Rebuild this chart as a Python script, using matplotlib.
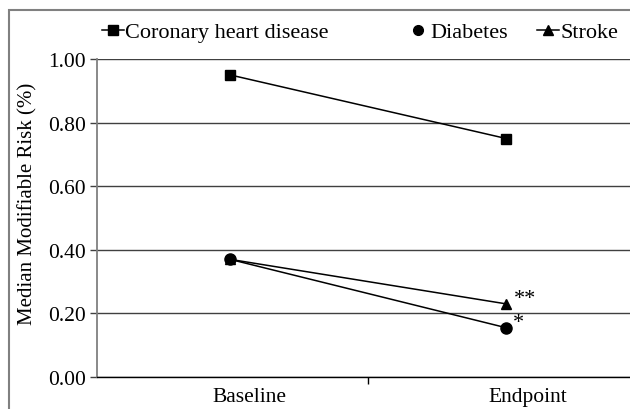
import matplotlib
matplotlib.use("Agg")
import matplotlib.pyplot as plt
from matplotlib.lines import Line2D
from matplotlib.patches import Rectangle

plt.rcParams['font.family'] = ['Liberation Serif', 'DejaVu Serif']
plt.rcParams['font.size'] = 15

# Datos
categorias = ['Baseline', 'Endpoint']
chd = [0.95, 0.75]
diabetes = [0.37, 0.155]
stroke = [0.37, 0.23]

W, H = 630, 410
fig = plt.figure(figsize=(W / 100, H / 100), dpi=100)

# marco de la figura
fig.patches.append(Rectangle((9 / W, -0.1), 1.2, 1.1 - 11 / H, transform=fig.transFigure,
                             fill=False, ec='#808080', lw=1.5))

ax = fig.add_axes([97 / W, (H - 378) / H, 1 - 97 / W, 318 / H])
x = [0, 1]

ax.plot(x, chd, color='black', lw=1.1, marker='s', ms=7.5, zorder=3)
ax.plot(x, diabetes, color='black', lw=1.1, marker='o', ms=8, zorder=3)
ax.plot(x, stroke, color='black', lw=1.1, marker='^', ms=7, zorder=3)

ax.annotate('**', (x[1], stroke[1]), xytext=(6, 4), textcoords='offset points',
            ha='left', va='center', fontsize=16)
ax.annotate('*', (x[1], diabetes[1]), xytext=(5, 4), textcoords='offset points',
            ha='left', va='center', fontsize=16)

ax.set_xlim(-0.482, 1.449)
ax.set_ylim(0, 1.0)
ax.set_yticks([0, 0.2, 0.4, 0.6, 0.8, 1.0])
ax.set_yticklabels([f'{v:.2f}' for v in ax.get_yticks()], fontsize=15.5)
ax.yaxis.grid(True, color='#404040', lw=1)
ax.set_axisbelow(True)

# etiquetas de categorias (ligeramente corridas como en el original)
ax.set_xticks([0.072, 1.08])
ax.set_xticklabels(categorias, fontsize=15.5)
ax.tick_params(axis='x', length=0, pad=7)
ax.set_xticks([0.5], minor=True)
ax.tick_params(axis='x', which='minor', length=5, width=1, direction='out', color='black')
ax.tick_params(axis='y', length=5, width=1, direction='out', color='#404040', pad=3)

for s in ['top', 'right']:
    ax.spines[s].set_visible(False)
ax.spines['left'].set_color('#808080')
ax.spines['left'].set_linewidth(1.3)
ax.spines['bottom'].set_color('black')
ax.spines['bottom'].set_linewidth(1)

ax.set_ylabel('Median Modifiable Risk (%)', fontsize=15)
ax.yaxis.set_label_coords(-0.112, 0.547)

# Leyenda (tres piezas separadas)
h_chd = Line2D([], [], color='black', lw=1.1, marker='s', ms=7)
h_dia = Line2D([], [], color='black', lw=0, marker='o', ms=7)
h_str = Line2D([], [], color='black', lw=1.1, marker='^', ms=7)
items = [(h_chd, 'Coronary heart disease', 102), (h_dia, 'Diabetes', 407), (h_str, 'Stroke', 537)]
for h, lab, px in items:
    fig.legend([h], [lab], loc='center left', bbox_to_anchor=(px / W, 1 - 33 / H),
               frameon=False, handlelength=1.0, handletextpad=0.05, borderpad=0,
               borderaxespad=0, fontsize=16)

fig.savefig('out.png', dpi=100)
